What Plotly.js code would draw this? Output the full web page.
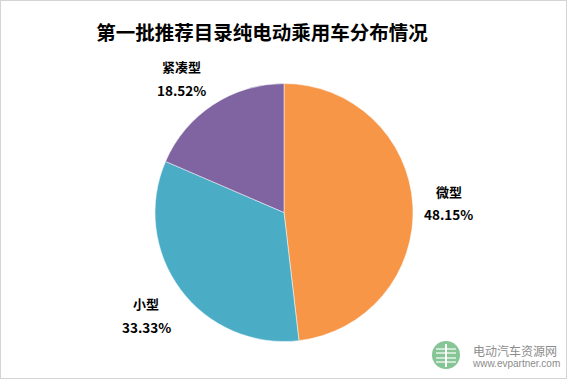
<!DOCTYPE html>
<html><head><meta charset="utf-8">
<script src="https://cdn.plot.ly/plotly-3.0.1.min.js"></script>
<style>html,body{margin:0;padding:0;background:#fff;}#c{width:565px;height:377px;border:1px solid #d4d4d4;}</style>
</head><body><div id="c"></div>
<script>
const categories = ["微型", "小型", "紧凑型"];
const values = [48.15, 33.33, 18.52];
const valueLabels = ["48.15%", "33.33%", "18.52%"];
const colors = ["#F79646", "#4BACC6", "#8064A2"];

const W = 565, H = 377;
const cx = 283, cy = 211.5, R = 129;
const font = "'Noto Sans CJK SC', 'Noto Sans', sans-serif";
const px = x => x/W, py = y => 1 - y/H;

// label positions computed from slice mid-angles
const total = values.reduce((a,b)=>a+b,0);
let acc = 0;
const labelR = [165, 172, 169];
const labelDA = [0, 0, -4]; // degrees of angular nudge
const annotations = [];
values.forEach((v,i)=>{
  const mid = (acc + v/2)/total*2*Math.PI + labelDA[i]*Math.PI/180; acc += v;
  const x = cx + labelR[i]*Math.sin(mid);
  const y = cy - labelR[i]*Math.cos(mid);
  annotations.push({xref:'paper', yref:'paper', x:px(x), y:py(y-11.5), xanchor:'center', yanchor:'middle', showarrow:false,
    text:'<b>'+categories[i]+'</b>', font:{family:font, size:13, color:'#000'}});
  annotations.push({xref:'paper', yref:'paper', x:px(x), y:py(y+11.5), xanchor:'center', yanchor:'middle', showarrow:false,
    text:'<b>'+valueLabels[i]+'</b>', font:{family:font, size:13.5, color:'#000'}});
});
annotations.push({xref:'paper', yref:'paper', x:px(470), y:py(349), xanchor:'left', yanchor:'middle', showarrow:false,
  text:'电动汽车资源网', font:{family:font, size:12, color:'#8c8c8c'}});
annotations.push({xref:'paper', yref:'paper', x:px(469), y:py(362), xanchor:'left', yanchor:'middle', showarrow:false,
  text:'www.evpartner.com', font:{family:'Liberation Sans, Arial, sans-serif', size:10, color:'#8c8c8c'}});

const shapes = [{type:'circle', xref:'paper', yref:'paper', x0:px(431), x1:px(459), y0:py(368), y1:py(340),
    fillcolor:'#86c595', line:{width:0}}];
[348, 352, 357, 361].forEach(y=>{
  shapes.push({type:'line', xref:'paper', yref:'paper', x0:px(435), x1:px(455), y0:py(y), y1:py(y), line:{color:'#ffffff', width:1.2}});
});
shapes.push({type:'line', xref:'paper', yref:'paper', x0:px(445), x1:px(445), y0:py(343), y1:py(366), line:{color:'#ffffff', width:2}});

const data = [{
  type:'pie', labels:categories, values:values, sort:false, direction:'clockwise', rotation:0,
  marker:{colors:colors, line:{color:'#ffffff', width:0.5}},
  textinfo:'none', hoverinfo:'label+percent', showlegend:false,
  domain:{x:[(cx-R)/W,(cx+R)/W], y:[1-(cy+R)/H, 1-(cy-R)/H]}
}];

const layout = {
  width:W, height:H, margin:{l:0,r:0,t:0,b:0},
  paper_bgcolor:'#fff', plot_bgcolor:'#fff',
  title:{text:'<b>第一批推荐目录纯电动乘用车分布情况</b>', x:px(261), xanchor:'center', y:py(32), yanchor:'middle',
    font:{family:font, size:19.5, color:'#000'}},
  annotations:annotations,
  shapes:shapes
};
Plotly.newPlot('c', data, layout, {displayModeBar:false, staticPlot:true});
</script></body></html>
